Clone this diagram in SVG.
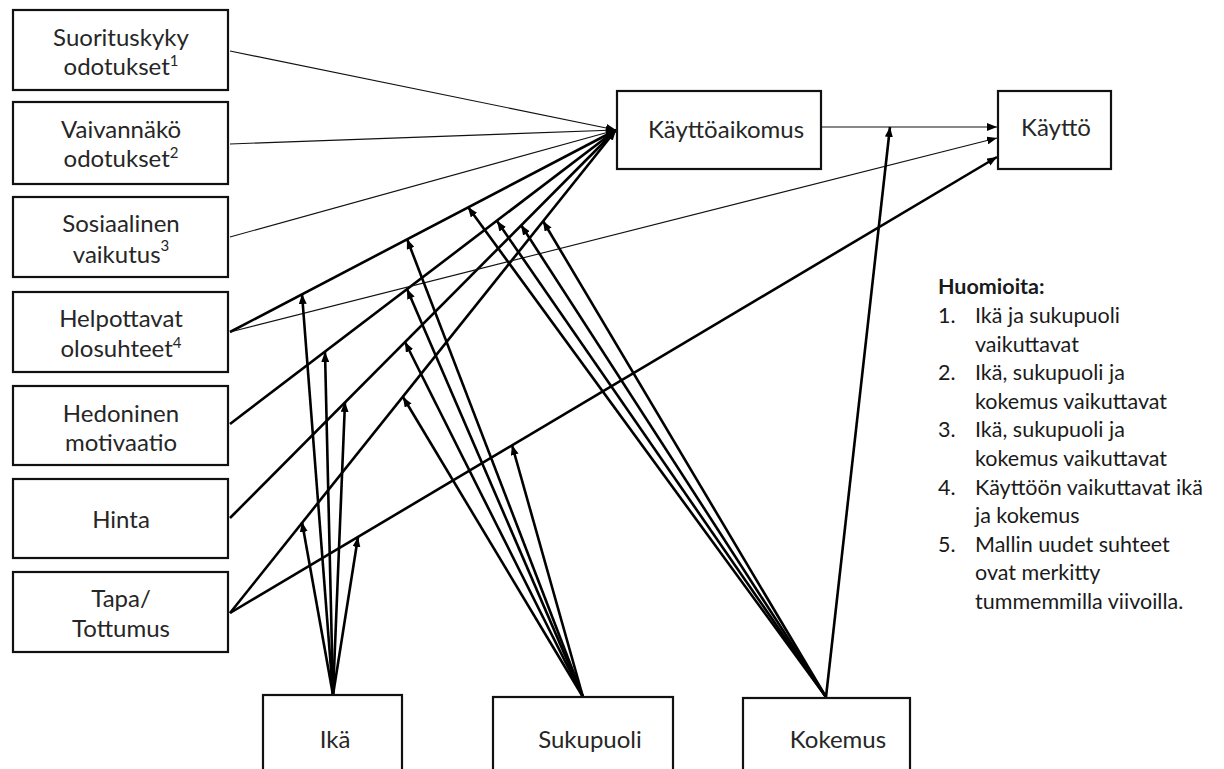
<svg xmlns="http://www.w3.org/2000/svg" width="1224" height="769" viewBox="0 0 1224 769">
<style>
.box{fill:#fff;stroke:#111;stroke-width:2.2}
.t{font-family:Lato,"Open Sans","Liberation Sans",sans-serif;font-size:24px;fill:#262626;text-anchor:middle}
.sup{font-size:15px}
.thin{stroke:#111;stroke-width:1.1;fill:none}
.thick{stroke:#000;stroke-width:2.6;fill:none}
.n{font-family:Lato,"Open Sans","Liberation Sans",sans-serif;font-size:21.5px;fill:#1a1a1a}
.h{font-weight:bold}
</style>
<defs>
<marker id="ah" viewBox="0 0 10 8" refX="10" refY="4" markerWidth="10" markerHeight="8" markerUnits="userSpaceOnUse" orient="auto"><path d="M0,0 L10,4 L0,8 z" fill="#000"/></marker>
</defs>
<rect width="1224" height="769" fill="#fff"/>

<g id="connectors">
  <line class="thin" x1="230" y1="51" x2="616" y2="130" marker-end="url(#ah)"/>
  <line class="thin" x1="230" y1="144" x2="616" y2="130" marker-end="url(#ah)"/>
  <line class="thin" x1="230" y1="237" x2="616" y2="130" marker-end="url(#ah)"/>
  <line class="thick" x1="230" y1="332" x2="616" y2="130" marker-end="url(#ah)"/>
  <line class="thick" x1="230" y1="424" x2="616" y2="130" marker-end="url(#ah)"/>
  <line class="thick" x1="230" y1="518" x2="616" y2="130" marker-end="url(#ah)"/>
  <line class="thick" x1="230" y1="613" x2="616" y2="130" marker-end="url(#ah)"/>
  <line class="thin" x1="230" y1="332" x2="997" y2="138" marker-end="url(#ah)"/>
  <line class="thick" x1="230" y1="613" x2="997" y2="157" marker-end="url(#ah)"/>
  <line class="thin" x1="822" y1="127" x2="997" y2="127" marker-end="url(#ah)"/>
  <!-- Ikä -->
  <line class="thick" x1="333" y1="695" x2="302" y2="294" marker-end="url(#ah)"/>
  <line class="thick" x1="333" y1="695" x2="325" y2="352" marker-end="url(#ah)"/>
  <line class="thick" x1="333" y1="695" x2="345" y2="402" marker-end="url(#ah)"/>
  <line class="thick" x1="333" y1="695" x2="302" y2="522" marker-end="url(#ah)"/>
  <line class="thick" x1="333" y1="695" x2="358" y2="537" marker-end="url(#ah)"/>
  <!-- Sukupuoli -->
  <line class="thick" x1="583" y1="697" x2="407" y2="239" marker-end="url(#ah)"/>
  <line class="thick" x1="583" y1="697" x2="407" y2="289" marker-end="url(#ah)"/>
  <line class="thick" x1="583" y1="697" x2="405" y2="342" marker-end="url(#ah)"/>
  <line class="thick" x1="583" y1="697" x2="403" y2="397" marker-end="url(#ah)"/>
  <line class="thick" x1="583" y1="697" x2="512" y2="445" marker-end="url(#ah)"/>
  <!-- Kokemus -->
  <line class="thick" x1="826" y1="697" x2="468" y2="207" marker-end="url(#ah)"/>
  <line class="thick" x1="826" y1="697" x2="497" y2="221" marker-end="url(#ah)"/>
  <line class="thick" x1="826" y1="697" x2="521" y2="225" marker-end="url(#ah)"/>
  <line class="thick" x1="826" y1="697" x2="543" y2="221" marker-end="url(#ah)"/>
  <line class="thick" x1="826" y1="697" x2="890" y2="127" marker-end="url(#ah)"/>
</g>

<g id="suorituskyky">
  <rect class="box" x="13" y="10" width="215" height="80"/>
  <text class="t" x="121" y="46">Suorituskyky</text>
  <text class="t" x="121" y="75">odotukset<tspan class="sup" dy="-9">1</tspan></text>
</g>
<g id="vaivannako">
  <rect class="box" x="13" y="102" width="215" height="82"/>
  <text class="t" x="121" y="138">Vaivannäkö</text>
  <text class="t" x="121" y="167">odotukset<tspan class="sup" dy="-9">2</tspan></text>
</g>
<g id="sosiaalinen">
  <rect class="box" x="13" y="197" width="215" height="80"/>
  <text class="t" x="121" y="232">Sosiaalinen</text>
  <text class="t" x="121" y="263">vaikutus<tspan class="sup" dy="-12">3</tspan></text>
</g>
<g id="helpottavat">
  <rect class="box" x="13" y="292" width="215" height="80"/>
  <text class="t" x="121" y="327">Helpottavat</text>
  <text class="t" x="121" y="357">olosuhteet<tspan class="sup" dy="-9">4</tspan></text>
</g>
<g id="hedoninen">
  <rect class="box" x="13" y="386" width="215" height="79"/>
  <text class="t" x="121" y="422">Hedoninen</text>
  <text class="t" x="121" y="451">motivaatio</text>
</g>
<g id="hinta">
  <rect class="box" x="13" y="479" width="215" height="79"/>
  <text class="t" x="121" y="528">Hinta</text>
</g>
<g id="tapa">
  <rect class="box" x="13" y="572" width="215" height="80"/>
  <text class="t" x="121" y="607">Tapa/</text>
  <text class="t" x="121" y="637">Tottumus</text>
</g>
<g id="kayttoaikomus">
  <rect class="box" x="617" y="91" width="204" height="78"/>
  <text class="t" x="726" y="138">Käyttöaikomus</text>
</g>
<g id="kaytto">
  <rect class="box" x="998" y="91" width="113" height="78"/>
  <text class="t" x="1056" y="136">Käyttö</text>
</g>
<g id="ika">
  <rect class="box" x="263" y="695" width="139" height="90"/>
  <text class="t" x="335" y="748">Ikä</text>
</g>
<g id="sukupuoli">
  <rect class="box" x="493" y="697" width="180" height="90"/>
  <text class="t" x="590" y="748">Sukupuoli</text>
</g>
<g id="kokemus">
  <rect class="box" x="743" y="698" width="167" height="90"/>
  <text class="t" x="838" y="748">Kokemus</text>
</g>

<g id="huomioita">
  <text class="n h" x="938" y="294">Huomioita:</text>
  <text class="n" x="938" y="323">1.</text><text class="n" x="975" y="323">Ikä ja sukupuoli</text>
  <text class="n" x="975" y="351.6">vaikuttavat</text>
  <text class="n" x="938" y="380.2">2.</text><text class="n" x="975" y="380.2">Ikä, sukupuoli ja</text>
  <text class="n" x="975" y="408.8">kokemus vaikuttavat</text>
  <text class="n" x="938" y="437.4">3.</text><text class="n" x="975" y="437.4">Ikä, sukupuoli ja</text>
  <text class="n" x="975" y="466">kokemus vaikuttavat</text>
  <text class="n" x="938" y="494.6">4.</text><text class="n" x="975" y="494.6">Käyttöön vaikuttavat ikä</text>
  <text class="n" x="975" y="523.2">ja kokemus</text>
  <text class="n" x="938" y="551.8">5.</text><text class="n" x="975" y="551.8">Mallin uudet suhteet</text>
  <text class="n" x="975" y="580.4">ovat merkitty</text>
  <text class="n" x="975" y="609">tummemmilla viivoilla.</text>
</g>
</svg>
